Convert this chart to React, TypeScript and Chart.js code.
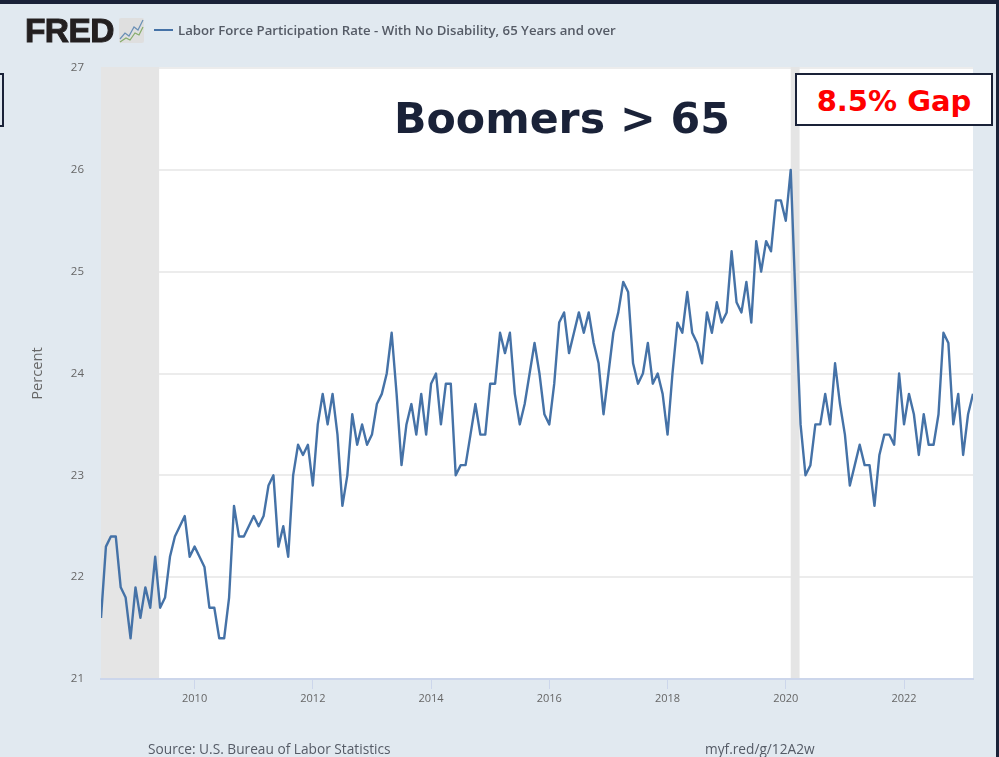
import React, { useEffect, useRef } from "react";
import { Chart, registerables } from "chart.js";

Chart.register(...registerables);

const startYear = 2008;
const startMonth = 5; // June, zero-based
const participation = [
  21.6, 22.3, 22.4, 22.4, 21.9, 21.8, 21.4, 21.9, 21.6, 21.9, 21.7, 22.2,
  21.7, 21.8, 22.2, 22.4, 22.5, 22.6, 22.2, 22.3, 22.2, 22.1, 21.7, 21.7,
  21.4, 21.4, 21.8, 22.7, 22.4, 22.4, 22.5, 22.6, 22.5, 22.6, 22.9, 23.0,
  22.3, 22.5, 22.2, 23.0, 23.3, 23.2, 23.3, 22.9, 23.5, 23.8, 23.5, 23.8,
  23.4, 22.7, 23.0, 23.6, 23.3, 23.5, 23.3, 23.4, 23.7, 23.8, 24.0, 24.4,
  23.8, 23.1, 23.5, 23.7, 23.4, 23.8, 23.4, 23.9, 24.0, 23.5, 23.9, 23.9,
  23.0, 23.1, 23.1, 23.4, 23.7, 23.4, 23.4, 23.9, 23.9, 24.4, 24.2, 24.4,
  23.8, 23.5, 23.7, 24.0, 24.3, 24.0, 23.6, 23.5, 23.9, 24.5, 24.6, 24.2,
  24.4, 24.6, 24.4, 24.6, 24.3, 24.1, 23.6, 24.0, 24.4, 24.6, 24.9, 24.8,
  24.1, 23.9, 24.0, 24.3, 23.9, 24.0, 23.8, 23.4, 24.0, 24.5, 24.4, 24.8,
  24.4, 24.3, 24.1, 24.6, 24.4, 24.7, 24.5, 24.6, 25.2, 24.7, 24.6, 24.9,
  24.5, 25.3, 25.0, 25.3, 25.2, 25.7, 25.7, 25.5, 26.0, 24.7, 23.5, 23.0,
  23.1, 23.5, 23.5, 23.8, 23.5, 24.1, 23.7, 23.4, 22.9, 23.1, 23.3, 23.1,
  23.1, 22.7, 23.2, 23.4, 23.4, 23.3, 24.0, 23.5, 23.8, 23.6, 23.2, 23.6,
  23.3, 23.3, 23.6, 24.4, 24.3, 23.5, 23.8, 23.2, 23.6, 23.8,
];
const xTickYears = [2010, 2012, 2014, 2016, 2018, 2020, 2022];
const yTicks = [21, 22, 23, 24, 25, 26, 27];
const recessions: [number, number][] = [
  [2008 + 5 / 12, 2009 + 4.8 / 12],
  [2020 + 1 / 12, 2020 + 2.8 / 12],
];

const seriesName = "Labor Force Participation Rate - With No Disability, 65 Years and over";
const navy = "#1a2238";
const pageBg = "#e1e9f0";
const lineBlue = "#4572a7";
const openSans = "'Open Sans', sans-serif";

const timeOf = (i: number) => startYear + (startMonth + i) / 12;

const plotBackdrop = {
  id: "plotBackdrop",
  beforeDraw(chart: any) {
    const { ctx, chartArea: a } = chart;
    ctx.save();
    ctx.fillStyle = "#ffffff";
    ctx.fillRect(a.left, a.top - 1, a.right - a.left, a.bottom - a.top + 1);
    ctx.restore();
  },
  beforeDatasetsDraw(chart: any) {
    const { ctx, chartArea: a, scales } = chart;
    ctx.save();
    ctx.fillStyle = "#e5e5e5";
    for (const [from, to] of recessions) {
      const x0 = scales.x.getPixelForValue(from);
      const x1 = scales.x.getPixelForValue(to);
      ctx.fillRect(x0, a.top - 1, x1 - x0, a.bottom - a.top);
    }
    ctx.restore();
  },
};

const abs = (s: React.CSSProperties): React.CSSProperties => ({ position: "absolute", whiteSpace: "nowrap", ...s });

export default function App() {
  const ref = useRef<HTMLCanvasElement>(null);
  useEffect(() => {
    const chart = new Chart(ref.current!, {
      type: "line",
      data: {
        datasets: [
          {
            label: seriesName,
            data: participation.map((y, i) => ({ x: timeOf(i), y })),
            borderColor: lineBlue,
            borderWidth: 2.4,
            pointRadius: 0,
            tension: 0,
            borderJoinStyle: "round",
          },
        ],
      },
      options: {
        animation: false,
        responsive: false,
        parsing: false,
        layout: { padding: { top: 68, right: 26, left: 0, bottom: 0 } },
        plugins: { legend: { display: false }, tooltip: { enabled: false } },
        scales: {
          x: {
            type: "linear",
            min: timeOf(0),
            max: timeOf(participation.length - 1),
            afterBuildTicks: (s: any) => {
              s.ticks = xTickYears.map((value) => ({ value }));
            },
            afterFit: (s: any) => {
              s.height = 78;
            },
            ticks: {
              autoSkip: false,
              maxRotation: 0,
              color: "#666666",
              font: { family: openSans, size: 11 },
              padding: 3,
              callback: (v: any) => String(v),
            },
            grid: { drawOnChartArea: false, drawTicks: true, tickLength: 10, tickColor: "#ccd6eb", tickWidth: 1 },
            border: { display: true, color: "#ccd6eb", width: 2 },
          },
          y: {
            min: 21,
            max: 27,
            afterBuildTicks: (s: any) => {
              s.ticks = yTicks.map((value) => ({ value }));
            },
            afterFit: (s: any) => {
              s.width = 101;
            },
            title: {
              display: true,
              text: "Percent",
              color: "#666666",
              font: { family: openSans, size: 14.7 },
              padding: { top: 29, bottom: 0 },
            },
            ticks: {
              color: "#666666",
              font: { family: openSans, size: 11.5 },
              padding: 17,
            },
            grid: { color: "#ececec", lineWidth: 2, drawTicks: false },
            border: { display: false },
          },
        },
      },
      plugins: [plotBackdrop],
    } as any);
    return () => chart.destroy();
  }, []);

  return (
    <div style={{ position: "fixed", left: 0, top: 0, width: 999, height: 757, background: pageBg, overflow: "hidden" }}>
      <canvas ref={ref} width={999} height={757} style={{ position: "absolute", left: 0, top: 0, display: "block" }} />

      <div style={abs({ left: 0, top: 0, width: 999, height: 4, background: navy })} />
      <div style={abs({ left: 996, top: 0, width: 3, height: 757, background: navy })} />

      <div style={abs({ left: 25, top: 12, fontFamily: "'Liberation Sans', sans-serif", fontWeight: 700, fontSize: 33.5, lineHeight: "38px", letterSpacing: -0.6, color: "#231f20", WebkitTextStroke: "1px #231f20" })}>FRED</div>
      <svg width={26} height={26} style={abs({ left: 119, top: 18 })}>
        <rect x={0} y={0} width={25} height={25} rx={2} fill="#dfdfdf" />
        <polyline points="1,21 6,15 10,18 15,9 19,12 24,2" fill="none" stroke="#6a8fb5" strokeWidth={1.2} />
        <polyline points="1,24 7,20 11,22 16,15 20,17 24,9" fill="none" stroke="#86ac6a" strokeWidth={1.2} />
      </svg>
      <div style={abs({ left: 154, top: 29, width: 19, height: 2, background: lineBlue })} />
      <div style={abs({ left: 178, top: 20, fontFamily: openSans, fontWeight: 600, fontSize: 13.2, lineHeight: "20px", color: "#555b66" })}>{seriesName}</div>

      <div style={abs({ left: 394, top: 90, fontFamily: "'DejaVu Sans', sans-serif", fontWeight: 700, fontSize: 42.7, lineHeight: "56px", color: navy })}>Boomers &gt; 65</div>

      <div style={abs({ left: 795, top: 73, width: 198, height: 53, boxSizing: "border-box", border: `2px solid ${navy}`, background: "#ffffff", color: "#ff0000", fontFamily: "'DejaVu Sans', sans-serif", fontWeight: 700, fontSize: 29, lineHeight: "53px", textAlign: "center" })}>8.5% Gap</div>
      <div style={abs({ left: -10, top: 73, width: 14, height: 54, boxSizing: "border-box", border: `2px solid ${navy}`, background: "transparent" })} />

      <div style={abs({ left: 148, top: 739, fontFamily: openSans, fontSize: 13.7, lineHeight: "20px", color: "#555b66" })}>Source: U.S. Bureau of Labor Statistics</div>
      <div style={abs({ left: 705, top: 739, fontFamily: openSans, fontSize: 13.7, lineHeight: "20px", color: "#555b66" })}>myf.red/g/12A2w</div>
    </div>
  );
}
